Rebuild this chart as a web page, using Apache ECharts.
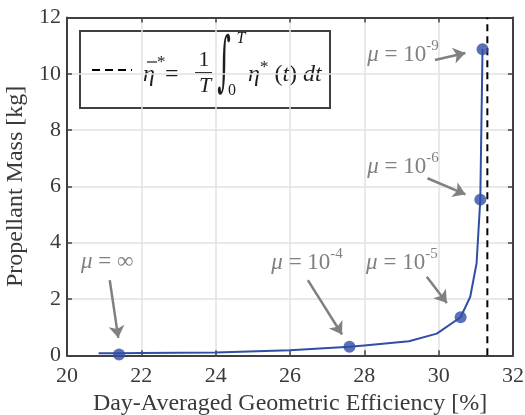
<!DOCTYPE html>
<html>
<head>
<meta charset="utf-8">
<script src="https://cdn.jsdelivr.net/npm/echarts@6/dist/echarts.min.js"></script>
<style>
  html, body { margin: 0; padding: 0; background: #ffffff; }
  #chart { width: 525px; height: 415px; }
</style>
</head>
<body>
<div id="chart"></div>
<script>
// Propellant mass versus day-averaged geometric efficiency, swept over the weight mu
const efficiency = [20.85, 21.4, 22.0, 24.0, 26.0, 27.6, 28.0, 29.2, 29.95, 30.59, 30.85, 31.02, 31.12, 31.18];
const propellant = [0.07, 0.07, 0.08, 0.1, 0.18, 0.3, 0.35, 0.5, 0.77, 1.35, 2.08, 3.27, 5.53, 10.87];

// highlighted solutions for selected values of mu
const muEfficiency = [21.4, 27.6, 30.59, 31.12, 31.18];
const muPropellant = [0.03, 0.3, 1.35, 5.53, 10.87];
const muExponent = ['inf', '-4', '-5', '-6', '-9'];

// time-averaged optimal efficiency (vertical bound)
const meanOptimalEfficiency = 31.31;

// axis ticks
const xTicks = [20, 22, 24, 26, 28, 30, 32];
const yTicks = [0, 2, 4, 6, 8, 10, 12];

// annotation anchors in data units: label centre, arrow tail, arrow head
const labelAt   = [[21.08, 3.33], [26.46, 3.28], [29.01, 3.28], [29.04, 6.70], [29.04, 10.67]];
const arrowFrom = [[21.15, 2.67], [26.48, 2.67], [29.68, 2.79], [29.70, 6.29], [29.90, 10.49]];
const arrowTo   = [[21.38, 0.62], [27.40, 0.74], [30.22, 1.86], [30.72, 5.72], [30.72, 10.74]];

const SERIF = '"Liberation Serif", "DejaVu Serif", serif';
const AXIS_COLOR = '#404040';
const TEXT_COLOR = '#3a3a3a';
const NOTE_COLOR = '#808080';
const INK = '#1e1e1e';
const LINE_BLUE = '#2f4ea6';

const chart = echarts.init(document.getElementById('chart'), null, { renderer: 'canvas' });

const xStep = xTicks[1] - xTicks[0];
const yStep = yTicks[1] - yTicks[0];

function xAxisDef(pos, primary) {
  return {
    type: 'value', position: pos,
    min: xTicks[0], max: xTicks[xTicks.length - 1], interval: xStep,
    axisLine: { show: true, onZero: false, lineStyle: { color: AXIS_COLOR, width: 2 } },
    axisTick: { show: true, inside: true, length: 5, lineStyle: { color: AXIS_COLOR, width: 1.5 } },
    axisLabel: { show: primary, color: TEXT_COLOR, fontFamily: SERIF, fontSize: 22, margin: 10 },
    splitLine: { show: primary, lineStyle: { color: '#e2e2e2', width: 1.5 } },
    name: primary ? 'Day-Averaged Geometric Efficiency [%]' : '',
    nameLocation: 'middle', nameGap: 36,
    nameTextStyle: { color: TEXT_COLOR, fontFamily: SERIF, fontSize: 24 }
  };
}
function yAxisDef(pos, primary) {
  return {
    type: 'value', position: pos,
    min: yTicks[0], max: yTicks[yTicks.length - 1], interval: yStep,
    axisLine: { show: true, onZero: false, lineStyle: { color: AXIS_COLOR, width: 2 } },
    axisTick: { show: true, inside: true, length: 5, lineStyle: { color: AXIS_COLOR, width: 1.5 } },
    axisLabel: { show: primary, color: TEXT_COLOR, fontFamily: SERIF, fontSize: 22, margin: 6 },
    splitLine: { show: primary, lineStyle: { color: '#e2e2e2', width: 1.5 } },
    name: primary ? 'Propellant Mass [kg]' : '',
    nameLocation: 'middle', nameGap: 31,
    nameTextStyle: { color: TEXT_COLOR, fontFamily: SERIF, fontSize: 24 }
  };
}

const noteRich = {
  it:  { fontFamily: SERIF, fontStyle: 'italic', fontSize: 23, color: NOTE_COLOR, lineHeight: 32 },
  t:   { fontFamily: SERIF, fontSize: 23, color: NOTE_COLOR, lineHeight: 32 },
  sup: { fontFamily: SERIF, fontSize: 15, color: NOTE_COLOR, lineHeight: 15, verticalAlign: 'top' }
};
function noteText(exp) {
  if (exp === 'inf') return '{it|μ}{t| = ∞}';
  return '{it|μ}{t| = 10}{sup|' + exp + '}';
}

const arrowLines = arrowFrom.map((p, i) => [{ coord: p }, { coord: arrowTo[i] }]);
const notePoints = labelAt.map((p, i) => ({
  coord: p,
  label: { formatter: noteText(muExponent[i]) }
}));

// formula legend pieces
const formulaRich = {
  it:  { fontFamily: SERIF, fontStyle: 'italic', fontSize: 24, fill: INK, lineHeight: 32 },
  t:   { fontFamily: SERIF, fontSize: 24, fill: INK, lineHeight: 32 },
  sup: { fontFamily: SERIF, fontSize: 17, fill: INK, lineHeight: 17, verticalAlign: 'top' }
};

chart.setOption({
  animation: false,
  backgroundColor: '#ffffff',
  grid: { left: 67, right: 12, top: 17.5, bottom: 59.7, containLabel: false, outerBoundsMode: 'none' },
  xAxis: [xAxisDef('bottom', true), xAxisDef('top', false)],
  yAxis: [yAxisDef('left', true), yAxisDef('right', false)],
  series: [
    {
      name: 'bound', type: 'line', xAxisIndex: 0, yAxisIndex: 0,
      data: [[meanOptimalEfficiency, yTicks[0]], [meanOptimalEfficiency, yTicks[yTicks.length - 1]]],
      symbol: 'none',
      lineStyle: { color: '#000000', width: 2, type: [7, 5] },
      z: 3
    },
    {
      name: 'sweep', type: 'line', xAxisIndex: 0, yAxisIndex: 0,
      data: efficiency.map((x, i) => [x, propellant[i]]),
      symbol: 'none',
      lineStyle: { color: LINE_BLUE, width: 2 },
      z: 4
    },
    {
      name: 'mu', type: 'scatter', xAxisIndex: 0, yAxisIndex: 0,
      data: muEfficiency.map((x, i) => [x, muPropellant[i]]),
      symbol: 'circle', symbolSize: 12,
      itemStyle: { color: LINE_BLUE },
      z: 5,
      markLine: {
        silent: true,
        symbol: ['none', 'arrow'],
        symbolSize: 12,
        lineStyle: { color: NOTE_COLOR, width: 2.5, type: 'solid' },
        label: { show: false },
        data: arrowLines
      },
      markPoint: {
        silent: true,
        symbol: 'circle', symbolSize: 0,
        itemStyle: { color: 'transparent' },
        label: { show: true, position: 'inside', rich: noteRich },
        data: notePoints
      }
    }
  ],
  graphic: [
    {
      type: 'group', x: 0, y: 0, z: 10,
      children: [
        { type: 'rect', shape: { x: 80, y: 31, width: 250, height: 77 },
          style: { fill: '#ffffff', stroke: AXIS_COLOR, lineWidth: 2 } },
        { type: 'line', shape: { x1: 92, y1: 70, x2: 132, y2: 70 },
          style: { stroke: '#000000', lineWidth: 2, lineDash: [8, 5] } },
        // mean efficiency symbol with bar and star
        { type: 'text', x: 143, y: 75,
          style: { text: 'η', font: 'italic 24px ' + SERIF, fill: INK, textAlign: 'left', textVerticalAlign: 'middle' } },
        { type: 'line', shape: { x1: 147, y1: 62, x2: 157, y2: 62 },
          style: { stroke: INK, lineWidth: 1.2 } },
        { type: 'text', x: 157, y: 63,
          style: { text: '*', font: '17px ' + SERIF, fill: INK, textAlign: 'left', textVerticalAlign: 'middle' } },
        { type: 'text', x: 165, y: 75,
          style: { text: '=', font: '24px ' + SERIF, fill: INK, textAlign: 'left', textVerticalAlign: 'middle' } },
        // 1/T
        { type: 'text', x: 204, y: 60,
          style: { text: '1', font: '22px ' + SERIF, fill: INK, textAlign: 'center', textVerticalAlign: 'middle' } },
        { type: 'line', shape: { x1: 195, y1: 72.7, x2: 212, y2: 72.7 },
          style: { stroke: INK, lineWidth: 1.2 } },
        { type: 'text', x: 205, y: 86,
          style: { text: 'T', font: 'italic 22px ' + SERIF, fill: INK, textAlign: 'center', textVerticalAlign: 'middle' } },
        // integral with limits
        { type: 'text', x: 224, y: 66, scaleY: 2.5, scaleX: 1.0,
          style: { text: '∫', font: '26px "DejaVu Serif", serif', fill: INK, textAlign: 'center', textVerticalAlign: 'middle' } },
        { type: 'text', x: 241, y: 39,
          style: { text: 'T', font: 'italic 16px ' + SERIF, fill: INK, textAlign: 'center', textVerticalAlign: 'middle' } },
        { type: 'text', x: 232, y: 91,
          style: { text: '0', font: '16px ' + SERIF, fill: INK, textAlign: 'center', textVerticalAlign: 'middle' } },
        // integrand
        { type: 'text', x: 248, y: 75,
          style: { text: '{it|η}{sup|*}{t| (}{it|t}{t|) }{it|dt}', textVerticalAlign: 'middle', textAlign: 'left',
            rich: formulaRich } }
      ]
    }
  ]
});
</script>
</body>
</html>
